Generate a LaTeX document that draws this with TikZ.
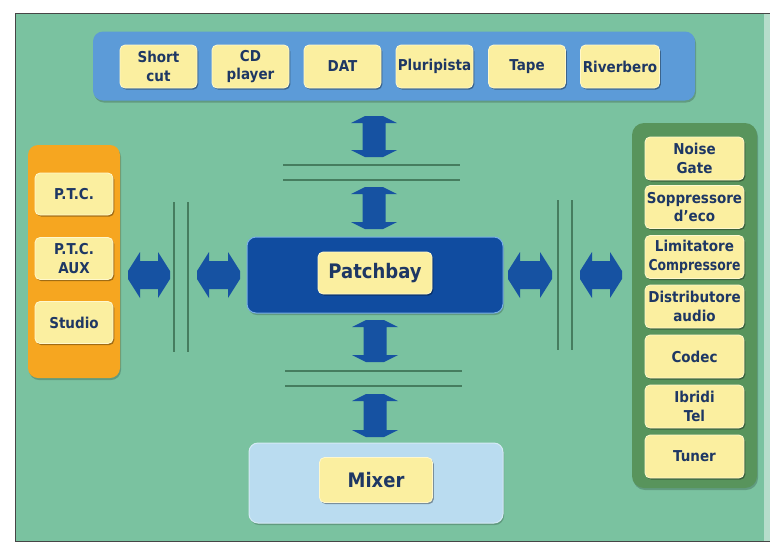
\documentclass[tikz,border=0pt]{standalone}
\usepackage{fontspec}
\setmainfont{DejaVu Sans}[FakeStretch=0.9]
\usepackage{graphicx}
\usetikzlibrary{shadows}

\definecolor{bggreen}{RGB}{122,194,160}
\definecolor{topblue}{RGB}{92,155,216}
\definecolor{boxyel}{RGB}{251,239,160}
\definecolor{boxrim}{RGB}{255,248,205}
\definecolor{txtblue}{RGB}{30,55,100}
\definecolor{pbblue}{RGB}{16,76,160}
\definecolor{pbrim}{RGB}{120,175,230}
\definecolor{arrblue}{RGB}{22,82,162}
\definecolor{orangep}{RGB}{246,166,32}
\definecolor{greenp}{RGB}{88,148,92}
\definecolor{mixblue}{RGB}{186,220,240}
\definecolor{sepline}{RGB}{70,125,95}
\definecolor{frame}{RGB}{70,70,70}

\tikzset{
  ybox/.style={rectangle, rounded corners=5pt, fill=boxyel, draw=boxrim, line width=0.8pt,
    font=\bfseries\fontsize{15}{18.5}\selectfont, text=txtblue, align=center, inner sep=0pt,
    minimum height=43pt,
    drop shadow={shadow xshift=1.3pt, shadow yshift=-1.6pt, fill=black, opacity=0.35}},
  bigbox/.style={ybox, font=\bfseries\fontsize{20}{24}\selectfont},
  panel/.style={rectangle, inner sep=0pt,
    drop shadow={shadow xshift=1pt, shadow yshift=-2pt, fill=black, opacity=0.2}},
  sep/.style={draw=sepline, line width=1.3pt},
  arr/.style={fill=arrblue},
}

\newcommand\vdarrow[3]{%
  \fill[arr] ({#1-9},#2) -- ({#1+9},#2) -- ({#1+23},{#2+7}) -- ({#1+11.5},{#2+7})
    -- ({#1+11.5},{#3-7}) -- ({#1+23},{#3-7}) -- ({#1+9},#3) -- ({#1-9},#3)
    -- ({#1-23},{#3-7}) -- ({#1-11.5},{#3-7}) -- ({#1-11.5},{#2+7}) -- ({#1-23},{#2+7}) -- cycle;}
\newcommand\hdarrow[3]{%
  \fill[arr] (#1,{#3-4}) -- ({#1+12},{#3-23}) -- ({#1+12},{#3-14}) -- ({#2-12},{#3-14})
    -- ({#2-12},{#3-23}) -- (#2,{#3-4}) -- (#2,{#3+4}) -- ({#2-12},{#3+23})
    -- ({#2-12},{#3+14}) -- ({#1+12},{#3+14}) -- ({#1+12},{#3+23}) -- (#1,{#3+4}) -- cycle;}

\begin{document}
\begin{tikzpicture}[x=1pt,y=-1pt]
\useasboundingbox (0,0) rectangle (770,542);
\fill[white] (0,0) rectangle (770,542);
\fill[bggreen] (15,13) rectangle (770,541);
\fill[bggreen!55!white] (764,13) rectangle (770,541);
\draw[frame, line width=1pt] (770,13) -- (15,13) -- (15,541) -- (770,541);

% top panel
\node[panel, fill=topblue, rounded corners=10pt, minimum width=602pt, minimum height=69pt] (toppanel) at (394,66) {};
\node[ybox, minimum width=77pt] (tb1) at (158.5,66.5) {Short\\cut};
\node[ybox, minimum width=77pt] (tb2) at (250.5,66.5) {CD\\player};
\node[ybox, minimum width=77pt] (tb3) at (342.5,66.5) {DAT};
\node[ybox, minimum width=77pt] (tb4) at (434.5,66.5) {Pluripista};
\node[ybox, minimum width=77pt] (tb5) at (527,66.5) {Tape};
\node[ybox, minimum width=79pt] (tb6) at (620,66.5) {Riverbero};

% left panel
\node[panel, fill=orangep, rounded corners=10pt, minimum width=92pt, minimum height=233pt] (leftpanel) at (74,261.5) {};
\node[ybox, minimum width=78pt, minimum height=42pt] (lb1) at (74,194) {P.T.C.};
\node[ybox, minimum width=78pt, minimum height=42pt] (lb2) at (74,258.5) {P.T.C.\\AUX};
\node[ybox, minimum width=78pt, minimum height=42pt] (lb3) at (74,322.5) {Studio};

% right panel
\node[panel, fill=greenp, rounded corners=12pt, minimum width=125pt, minimum height=365pt] (rightpanel) at (694.5,305.5) {};
\node[ybox, minimum width=99pt] (rb1) at (694.5,158.5) {Noise\\Gate};
\node[ybox, minimum width=99pt] (rb2) at (694.5,207) {Soppressore\\d'eco};
\node[ybox, minimum width=99pt] (rb3) at (694.5,257) {Limitatore\\\scalebox{0.92}[1]{Compressore}};
\node[ybox, minimum width=99pt] (rb4) at (694.5,306.5) {Distributore\\audio};
\node[ybox, minimum width=99pt] (rb5) at (694.5,356.5) {Codec};
\node[ybox, minimum width=99pt] (rb6) at (694.5,406.5) {Ibridi\\Tel};
\node[ybox, minimum width=99pt] (rb7) at (694.5,456.5) {Tuner};

% patchbay
\node[panel, fill=pbblue, draw=pbrim, line width=1pt, rounded corners=9pt, minimum width=256pt, minimum height=76pt] (pb) at (375,275) {};
\node[bigbox, minimum width=114pt, minimum height=42pt] (pbt) at (375,273) {Patchbay};

% mixer
\node[panel, fill=mixblue, draw=mixblue!60!white, line width=1pt, rounded corners=9pt, minimum width=254pt, minimum height=80pt] (mix) at (376,483) {};
\node[bigbox, minimum width=113pt, minimum height=45pt] (mixt) at (376,480) {Mixer};

% separator lines
\draw[sep] (283,165) -- (460,165);
\draw[sep] (283,180) -- (460,180);
\draw[sep] (285,371) -- (462,371);
\draw[sep] (285,386) -- (462,386);
\draw[sep] (174,202) -- (174,352);
\draw[sep] (188,202) -- (188,352);
\draw[sep] (558,200) -- (558,350);
\draw[sep] (572,200) -- (572,350);

% arrows
\vdarrow{374}{116}{157}
\vdarrow{374}{187}{229}
\vdarrow{375}{320}{362}
\vdarrow{375}{394}{437}
\hdarrow{128}{170}{275}
\hdarrow{197}{240}{275}
\hdarrow{508}{552}{275}
\hdarrow{580}{622}{275}
\end{tikzpicture}
\end{document}
